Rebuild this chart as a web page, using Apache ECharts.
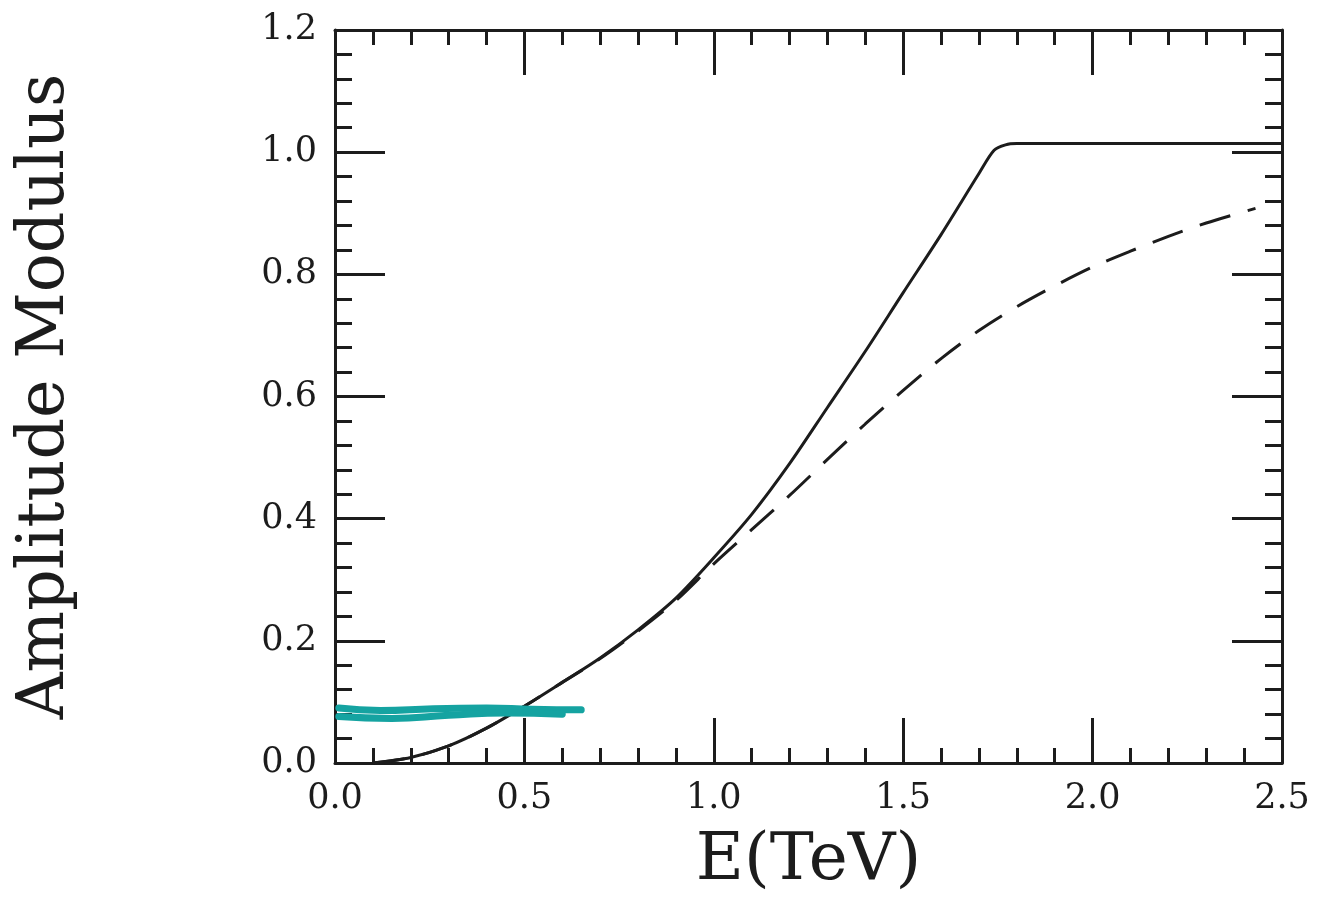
<!DOCTYPE html>
<html>
<head>
<meta charset="utf-8">
<script src="https://cdn.jsdelivr.net/npm/echarts@6/dist/echarts.min.js"></script>
<style>
  html, body { margin: 0; padding: 0; background: #fff; }
  #chart { width: 1324px; height: 915px; }
</style>
</head>
<body>
<div id="chart"></div>
<script>
// solid curve
const solidE = [0.1, 0.2, 0.3, 0.4, 0.5, 0.6, 0.7, 0.8, 0.9, 1.0, 1.1, 1.2, 1.3, 1.4, 1.5, 1.6, 1.7, 1.74, 1.77, 1.8, 2.5]
const solidAmp = [0.0, 0.009, 0.028, 0.057, 0.093, 0.132, 0.172, 0.218, 0.27, 0.336, 0.407, 0.49, 0.582, 0.674, 0.77, 0.865, 0.965, 1.003, 1.012, 1.014, 1.014]
// dashed curve
const dashedE = [0.1, 0.2, 0.3, 0.4, 0.5, 0.6, 0.7, 0.8, 0.9, 1.0, 1.1, 1.2, 1.3, 1.4, 1.5, 1.6, 1.7, 1.8, 1.9, 2.0, 2.1, 2.2, 2.3, 2.43]
const dashedAmp = [0.0, 0.009, 0.028, 0.057, 0.093, 0.132, 0.171, 0.216, 0.266, 0.326, 0.382, 0.438, 0.497, 0.555, 0.61, 0.662, 0.708, 0.747, 0.781, 0.812, 0.838, 0.862, 0.884, 0.908]
// cyan pen marks over the plot
const markE = [0.01, 0.12, 0.26, 0.4, 0.52, 0.65]
const markA = [0.09, 0.086, 0.089, 0.09, 0.088, 0.087]
const markE2 = [0.01, 0.15, 0.3, 0.45, 0.6]
const markA2 = [0.076, 0.073, 0.078, 0.082, 0.08]

const ink = '#1c1c1c'
const font = 'DejaVu Serif'

const pairs = (xs, ys) => xs.map((x, i) => [x, ys[i]])

function xAx(pos, show) {
  return {
    type: 'value', position: pos, min: 0, max: 2.5, interval: 0.5,
    name: show ? 'E(TeV)' : '',
    nameLocation: 'middle', nameGap: 66,
    nameTextStyle: { fontFamily: font, fontSize: 66, color: ink },
    axisLine: { show: true, onZero: false, lineStyle: { color: ink, width: 3 } },
    axisTick: { show: true, inside: true, length: 45, lineStyle: { color: ink, width: 3 } },
    minorTick: { show: true, splitNumber: 5, length: 15, lineStyle: { color: ink, width: 3 } },
    axisLabel: { show: show, margin: 18, fontFamily: font, fontSize: 35, color: ink,
      formatter: v => v.toFixed(1) },
    splitLine: { show: false }
  }
}
function yAx(pos, show) {
  return {
    type: 'value', position: pos, min: 0, max: 1.2, interval: 0.2,
    name: show ? 'Amplitude Modulus' : '',
    nameLocation: 'middle', nameGap: 256, nameRotate: 90,
    nameTextStyle: { fontFamily: font, fontSize: 65, color: ink },
    axisLine: { show: true, onZero: false, lineStyle: { color: ink, width: 3 } },
    axisTick: { show: true, inside: true, length: 50, lineStyle: { color: ink, width: 3 } },
    minorTick: { show: true, splitNumber: 5, length: 17, lineStyle: { color: ink, width: 3 } },
    axisLabel: { show: show, margin: 18, fontFamily: font, fontSize: 35, color: ink,
      formatter: v => v.toFixed(1) },
    splitLine: { show: false }
  }
}

const chart = echarts.init(document.getElementById('chart'))
chart.setOption({
  backgroundColor: '#fff',
  animation: false,
  grid: { left: 335, right: 42, top: 30, bottom: 152 },
  xAxis: [xAx('bottom', true), xAx('top', false)],
  yAxis: [yAx('left', true), yAx('right', false)],
  series: [
    {
      type: 'line', data: pairs(dashedE, dashedAmp), showSymbol: false,
      smooth: 0.3,
      lineStyle: { color: ink, width: 3, type: [32, 18] }
    },
    {
      type: 'line', data: pairs(solidE, solidAmp), showSymbol: false,
      smooth: 0.3,
      lineStyle: { color: ink, width: 3 }
    },
    {
      type: 'line', data: pairs(markE, markA), showSymbol: false, smooth: true, z: 5,
      lineStyle: { color: '#15a3a1', width: 7, cap: 'round' }
    },
    {
      type: 'line', data: pairs(markE2, markA2), showSymbol: false, smooth: true, z: 5,
      lineStyle: { color: '#15a3a1', width: 7, cap: 'round' }
    }
  ]
})
</script>
</body>
</html>
